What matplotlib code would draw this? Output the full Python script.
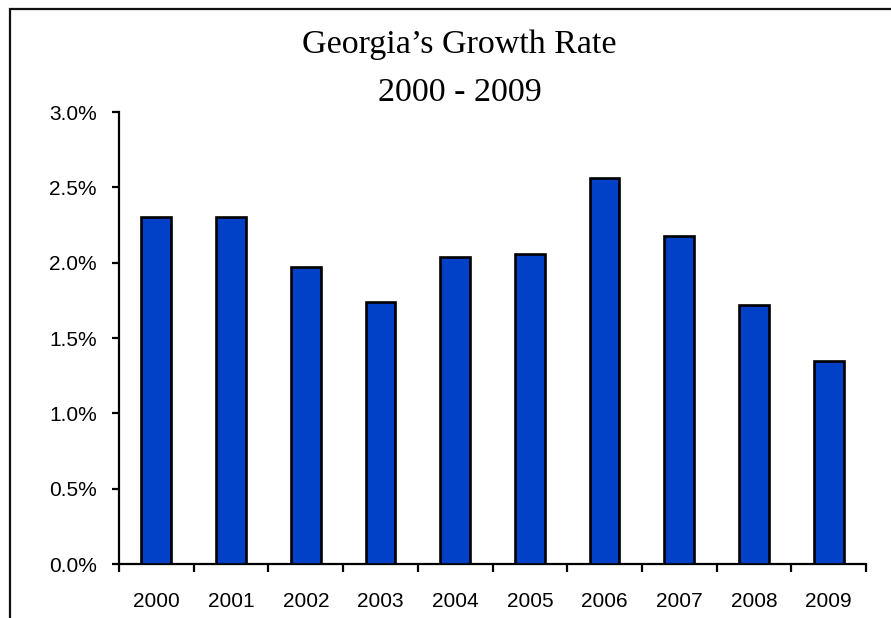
import matplotlib.pyplot as plt
from matplotlib.patches import Rectangle
from matplotlib.ticker import FixedLocator, PercentFormatter

# Annual population growth, percent
years = ['2000', '2001', '2002', '2003', '2004', '2005', '2006', '2007', '2008', '2009']
growth = [2.30, 2.30, 1.97, 1.74, 2.04, 2.06, 2.56, 2.18, 1.72, 1.35]

W, H = 891, 618
fig = plt.figure(figsize=(W / 100, H / 100), dpi=100)
fig.patch.set_facecolor('white')

# frame line along the top and left edge
fig.add_artist(Rectangle((10 / W, -0.1), 1.2, 1.1 - 9 / H, fill=False,
                         edgecolor='#111111', lw=1.6, transform=fig.transFigure))

ax = fig.add_axes([119 / W, 1 - 564 / H, (866 - 119) / W, (564 - 112) / H])
x = list(range(len(years)))
ax.bar(x, growth, width=0.4, color='#0041C8', edgecolor='black', linewidth=1.9, zorder=3)

ax.set_xlim(-0.5, len(years) - 0.5)
ax.set_ylim(0, 3.0)
ax.set_yticks([0, 0.5, 1.0, 1.5, 2.0, 2.5, 3.0])
ax.yaxis.set_major_formatter(PercentFormatter(decimals=1))

# tick marks between categories, labels under the bars
ax.xaxis.set_major_locator(FixedLocator([i - 0.5 for i in range(len(years) + 1)]))
ax.xaxis.set_major_formatter(plt.NullFormatter())
ax.xaxis.set_minor_locator(FixedLocator(x))
ax.set_xticklabels(years, minor=True)

for s in ('top', 'right'):
    ax.spines[s].set_visible(False)
for s in ('left', 'bottom'):
    ax.spines[s].set_linewidth(1.6)

ax.tick_params(axis='y', direction='out', length=5, width=1.6, pad=11,
               labelsize=15, labelfontfamily='Liberation Sans')
ax.tick_params(axis='x', which='major', direction='out', length=6, width=1.6)
ax.tick_params(axis='x', which='minor', length=0, pad=20,
               labelsize=15, labelfontfamily='Liberation Sans')

fig.text(0.5 * (296 + 622) / W, 1 - 53 / H, 'Georgia\u2019s Growth Rate', ha='center',
         va='baseline', fontsize=24.5, family='Liberation Serif')
fig.text(0.5 * (376 + 543) / W, 1 - 101 / H, '2000 - 2009', ha='center',
         va='baseline', fontsize=24.5, family='Liberation Serif')

fig.savefig('out.png', dpi=100, facecolor='white')
